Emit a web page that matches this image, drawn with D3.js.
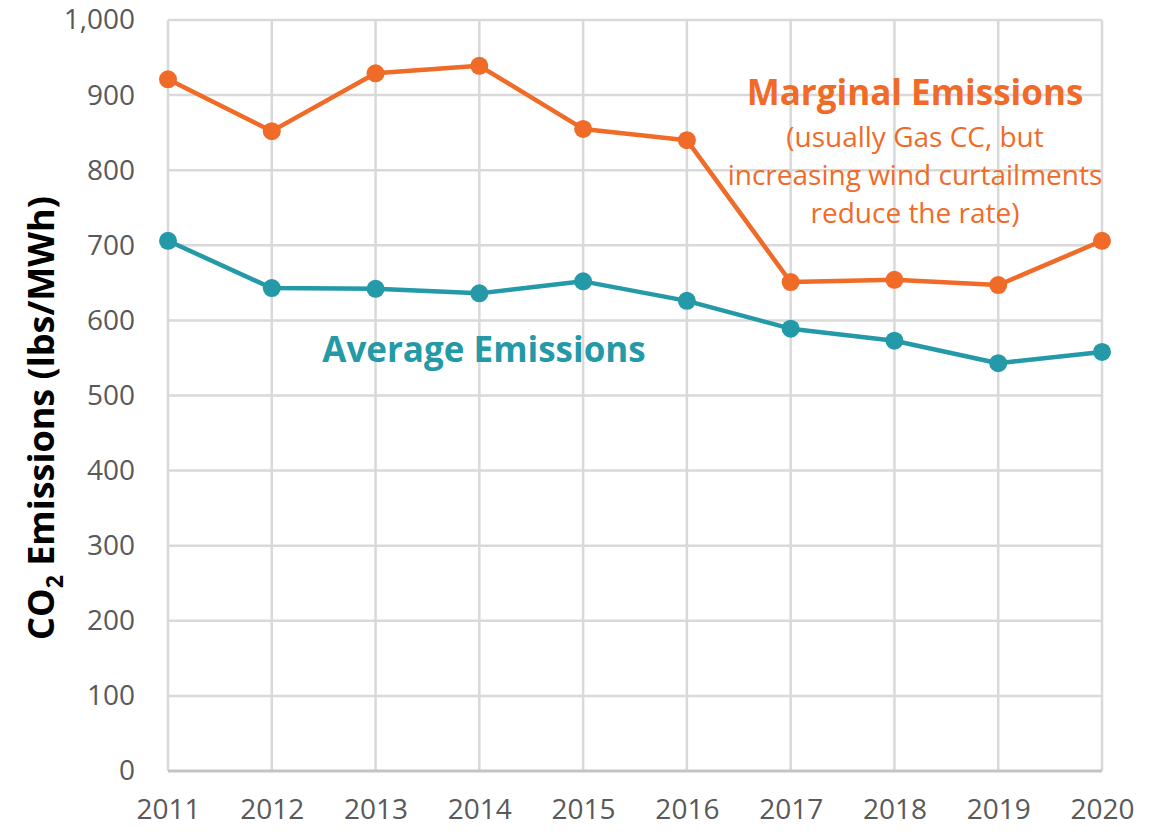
<!DOCTYPE html>
<html><head><meta charset="utf-8">
<script src="https://cdn.jsdelivr.net/npm/d3@7"></script>
<style>body{margin:0;background:#fff;} svg{display:block;}</style>
</head><body>
<svg id="c" width="1165" height="832"></svg>
<script>
const years = [2011,2012,2013,2014,2015,2016,2017,2018,2019,2020];
const marginal = [921,852,929,939,855,840,651,654,647,706];
const average = [706,643,642,636,652,626,589,573,543,558];
const yTicks = [0,100,200,300,400,500,600,700,800,900,1000];

const svg = d3.select("#c");
const x = d3.scalePoint().domain(years).range([168,1102]);
const y = d3.scaleLinear().domain([0,1000]).range([771,20]);
const orange = "#F06B28", teal = "#2499A8";
const font = "'Open Sans', sans-serif";

// grid
svg.append("g").selectAll("line.h").data(yTicks.filter(d=>d>0)).join("line")
  .attr("x1",168).attr("x2",1102).attr("y1",d=>y(d)).attr("y2",d=>y(d))
  .attr("stroke","#d9d9d9").attr("stroke-width",2.5);
svg.append("g").selectAll("line.v").data(years).join("line")
  .attr("x1",d=>x(d)).attr("x2",d=>x(d)).attr("y1",y(1000)).attr("y2",y(0))
  .attr("stroke","#d9d9d9").attr("stroke-width",2.5);
svg.append("line").attr("x1",168).attr("x2",1102).attr("y1",y(0)).attr("y2",y(0))
  .attr("stroke","#c4c4c4").attr("stroke-width",3);

// axes labels
const yAxis = d3.axisLeft(y).tickValues(yTicks).tickFormat(d3.format(",")).tickSize(0).tickPadding(33);
const gy = svg.append("g").attr("transform","translate(168,0)").call(yAxis);
gy.select(".domain").remove();
gy.selectAll("text").attr("fill","#595959").style("font-family",font).style("font-size","28px");
const xAxis = d3.axisBottom(x).tickSize(0).tickPadding(28).tickFormat(d=>String(d));
const gx = svg.append("g").attr("transform","translate(0,771)").call(xAxis);
gx.select(".domain").remove();
gx.selectAll("text").attr("fill","#595959").style("font-family",font).style("font-size","28px");

// lines
function series(vals,color){
  const data = years.map((yr,i)=>[yr,vals[i]]);
  svg.append("path").datum(data)
    .attr("d",d3.line().x(d=>x(d[0])).y(d=>y(d[1])))
    .attr("fill","none").attr("stroke",color).attr("stroke-width",4.5).attr("stroke-linejoin","round");
  svg.append("g").selectAll("circle").data(data).join("circle")
    .attr("cx",d=>x(d[0])).attr("cy",d=>y(d[1])).attr("r",9).attr("fill",color);
}
series(average,teal);
series(marginal,orange);

// y title
const t = svg.append("text").attr("transform","translate(54,418) rotate(-90)")
  .attr("text-anchor","middle").style("font-family",font).style("font-weight","bold")
  .style("font-size","36px").attr("fill","#000");
t.append("tspan").text("CO");
t.append("tspan").text("2").style("font-size","23px").attr("dy",9);
t.append("tspan").text(" Emissions (lbs/MWh)").attr("dy",-9);

// annotations
svg.append("text").attr("x",915).attr("y",105).attr("text-anchor","middle")
  .style("font-family",font).style("font-weight","bold").style("font-size","35px")
  .attr("fill",orange).text("Marginal Emissions");
["(usually Gas CC, but","increasing wind curtailments","reduce the rate)"].forEach((s,i)=>{
  svg.append("text").attr("x",915).attr("y",147+i*38).attr("text-anchor","middle")
    .style("font-family",font).style("font-size","28px").attr("fill",orange).text(s);
});
svg.append("text").attr("x",484).attr("y",362).attr("text-anchor","middle")
  .style("font-family",font).style("font-weight","bold").style("font-size","35px")
  .attr("fill",teal).text("Average Emissions");
</script>
</body></html>
